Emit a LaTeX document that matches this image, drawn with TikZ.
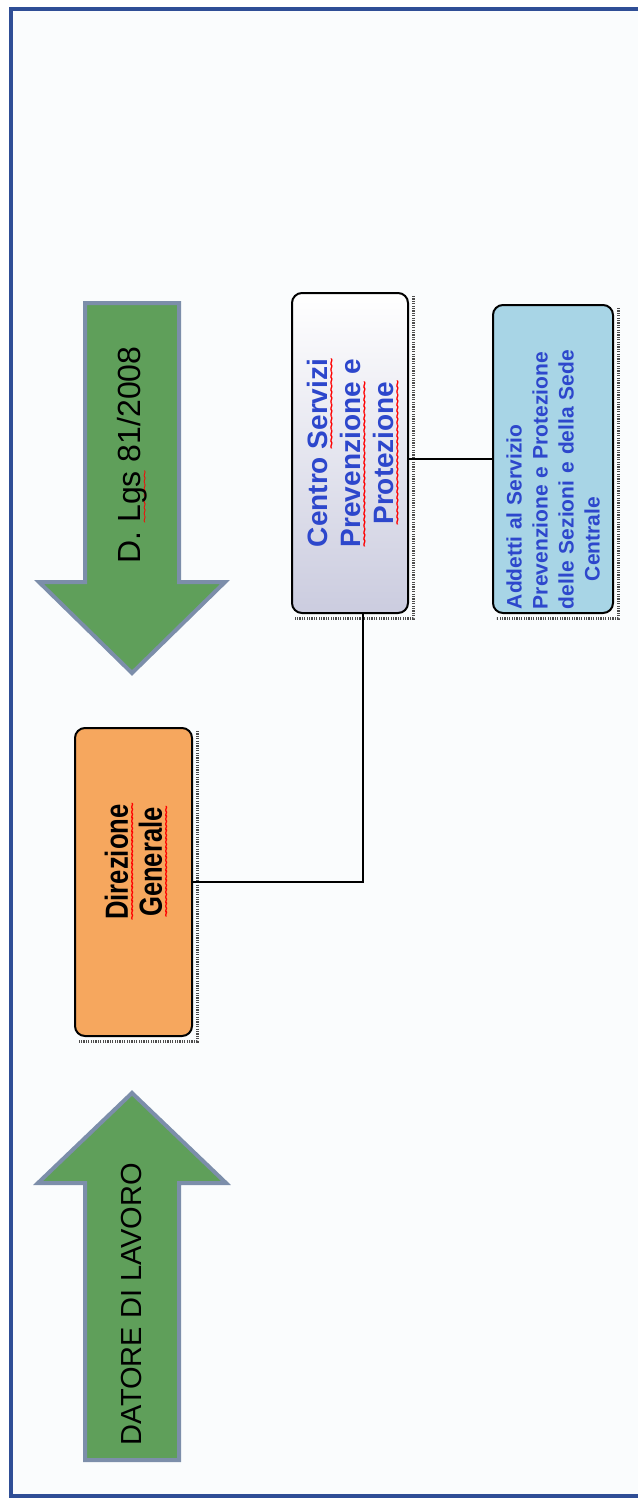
\documentclass[tikz,border=0pt]{standalone}
\usepackage{fontspec}
\setmainfont{Liberation Sans}
\newfontfamily\narrowsf[FakeStretch=0.8]{Liberation Sans}
\usetikzlibrary{calc}
\definecolor{framebl}{HTML}{2F4E96}
\definecolor{pagetint}{HTML}{FAFCFD}
\definecolor{arrowgr}{HTML}{5F9F5A}
\definecolor{arrowbd}{HTML}{7C8EAA}
\definecolor{dirorange}{HTML}{F6A75E}
\definecolor{centrogr}{HTML}{CBCCDF}
\definecolor{addettibl}{HTML}{A8D5E6}
\definecolor{textbl}{HTML}{2D47CC}
\newsavebox\wavebox
\newcommand{\redwave}[1]{\sbox\wavebox{#1}\rlap{\raisebox{-4.5pt}[0pt][0pt]{\textcolor{red}{\hbox to \wd\wavebox{\xleaders\hbox{\fontsize{7}{7}\selectfont\kern-0.5pt\char"7E\kern-0.5pt}\hfil}}}}\usebox\wavebox}
\tikzset{
  bigarrow/.style={fill=arrowgr, draw=arrowbd, line width=2pt, line join=miter},
  orgbox/.style={draw=black, line width=1pt, rounded corners=5pt, rotate=90},
  selmark/.style={draw=gray!60!black, line width=1.5pt, dash pattern=on 0.6pt off 0.6pt},
  link/.style={draw=black, line width=1pt}
}

\begin{document}
\begin{tikzpicture}[x=0.5pt,y=-0.5pt]
    \useasboundingbox (0,0) rectangle (638,1499);
    \fill[white] (0,0) rectangle (638,1499);
    \fill[pagetint] (11,9) rectangle (638,1496);
    \draw[framebl, line width=2pt] (638,9) -- (11,9) -- (11,1496) -- (638,1496);

    \draw[bigarrow] (85,303) -- (179,303) -- (179,582) -- (225,582) -- (132,673) -- (39,582) -- (85,582) -- cycle;
    \node[rotate=90, font=\fontsize{16}{19}\selectfont] (dlgs) at (132,455) {D. \redwave{Lgs} 81/2008};

    \draw[bigarrow] (132,1093) -- (226,1183) -- (179,1183) -- (179,1460) -- (85,1460) -- (85,1183) -- (38,1183) -- cycle;
    \node[rotate=90, font=\fontsize{14.5}{17}\selectfont] (datore) at (132,1304) {DATORE DI LAVORO};

    \node[orgbox, fill=dirorange, minimum width=154pt, minimum height=58.5pt, align=center,
          font=\narrowsf\bfseries\fontsize{16}{17}\selectfont] (direzione) at (133.5,882)
          {\hspace*{20pt}\redwave{Direzione}\\\hspace*{20pt}\redwave{Generale}};
    \node[orgbox, top color=white, bottom color=centrogr, minimum width=160pt, minimum height=58pt,
          align=center, text=textbl, font=\bfseries\fontsize{14}{16.5}\selectfont] (centro) at (350,453)
          {Centro \redwave{Servizi}\\\redwave{Prevenzione} e\\\redwave{Protezione}};
    \node[orgbox, fill=addettibl, minimum width=154pt, minimum height=60pt, text width=150pt,
          inner xsep=2pt, align=left, text=textbl, font=\bfseries\fontsize{10.5}{13}\selectfont] (addetti) at (553,459)
          {Addetti al Servizio\\Prevenzione e Protezione\\delle Sezioni e della Sede\\\hspace*{14pt}Centrale};

    \foreach \n in {direzione, centro, addetti}
        \draw[selmark] ($(\n.south east)+(4,4)$) -- ($(\n.south west)+(4,4)$) -- ($(\n.north west)+(4,4)$);

    \draw[link] (direzione.south) -| ($(centro.west)+(13,0)$);
    \draw[link] (addetti.north) -- (addetti.north -| centro.south);
\end{tikzpicture}
\end{document}
